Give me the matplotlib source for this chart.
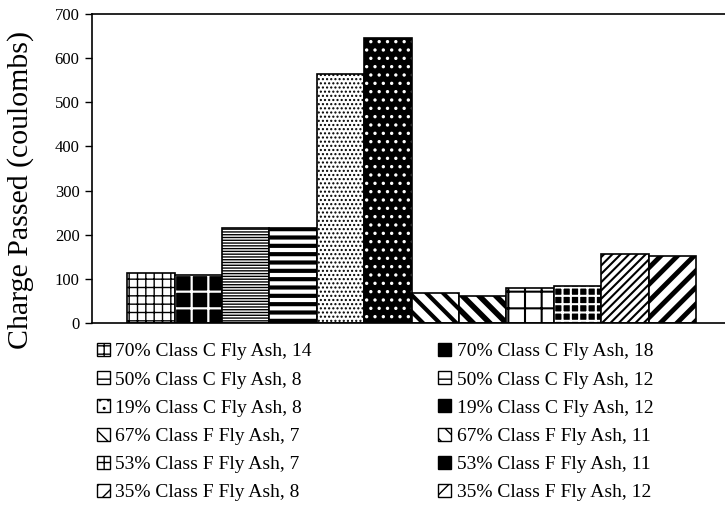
import matplotlib
matplotlib.use("Agg")
import matplotlib.pyplot as plt
from matplotlib.patches import Patch

plt.rcParams["font.family"] = ["Liberation Serif", "DejaVu Serif"]

labels = [
    "70% Class C Fly Ash, 14", "70% Class C Fly Ash, 18",
    "50% Class C Fly Ash, 8", "50% Class C Fly Ash, 12",
    "19% Class C Fly Ash, 8", "19% Class C Fly Ash, 12",
    "67% Class F Fly Ash, 7", "67% Class F Fly Ash, 11",
    "53% Class F Fly Ash, 7", "53% Class F Fly Ash, 11",
    "35% Class F Fly Ash, 8", "35% Class F Fly Ash, 12",
]
values = [113, 108, 214, 214, 564, 647, 68, 61, 79, 84, 157, 152]

# (facecolor, hatch colour, hatch, hatch linewidth)
styles = [
    ("white", "black", "++", 1.0),
    ("black", "white", "+", 1.6),
    ("white", "black", "------", 1.0),
    ("white", "black", "--", 3.0),
    ("white", "black", "....", 1.0),
    ("black", "white", "..", 1.2),
    ("white", "black", "\\\\", 3.0),
    ("white", "black", "\\\\", 4.0),
    ("white", "black", "+", 1.5),
    ("black", "white", "++", 1.5),
    ("white", "black", "////", 1.5),
    ("white", "black", "//", 3.5),
]

fig = plt.figure(figsize=(7.25, 5.17), dpi=100)
ax = fig.add_axes([92 / 725, 1 - 322.7 / 517, 1 - 92 / 725, 308.4 / 517])

handles = []
for i, (v, (fc, hc, h, lw)) in enumerate(zip(values, styles)):
    with plt.rc_context({"hatch.linewidth": lw}):
        b = ax.bar(i, v, width=1.0, color=fc, edgecolor=hc, hatch=h, linewidth=0)
        for p in b:
            if hasattr(p, "set_hatch_linewidth"):
                p.set_hatch_linewidth(lw)
    ax.bar(i, v, width=1.0, fill=False, edgecolor="black", linewidth=1.2)
    with plt.rc_context({"hatch.linewidth": 0.8}):
        hp = Patch(facecolor=fc, edgecolor="black", hatch=h[:1] * 2, linewidth=1.0)
    handles.append(hp)

ax.set_xlim(-1.24, 12.11)
ax.set_ylim(0, 700)
ax.set_yticks(range(0, 701, 100))
ax.set_xticks([])
ax.tick_params(axis="y", direction="out", length=5, width=1, labelsize=12, pad=4)
ax.spines["right"].set_visible(False)
for s in ("left", "bottom", "top"):
    ax.spines[s].set_linewidth(1.2)

fig.text(21 / 725, 1 - 190 / 517, "Charge Passed (coulombs)", rotation=90,
         ha="center", va="center", fontsize=21.5)

order = [0, 2, 4, 6, 8, 10, 1, 3, 5, 7, 9, 11]
fig.legend([handles[i] for i in order], [labels[i] for i in order],
           ncol=2, loc="upper left", bbox_to_anchor=(97 / 725, 1 - 343 / 517),
           frameon=False, fontsize=14, handlelength=0.65, handleheight=0.65,
           handletextpad=0.3, labelspacing=0.56, columnspacing=6.5, borderpad=0,
           borderaxespad=0)

fig.savefig("out.png", dpi=100)
